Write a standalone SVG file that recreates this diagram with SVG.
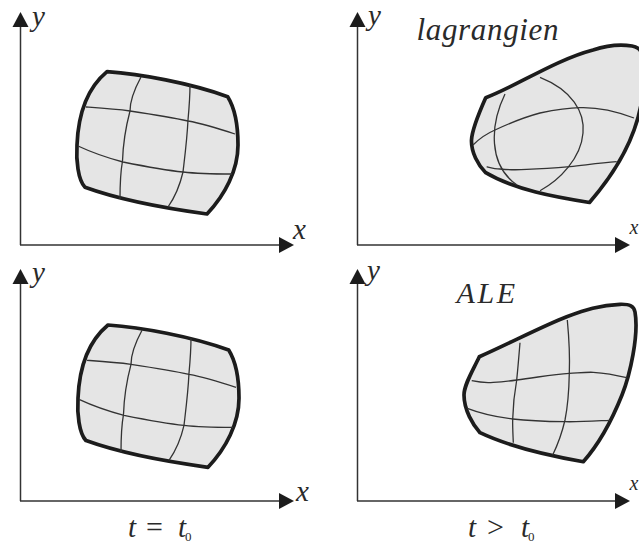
<svg xmlns="http://www.w3.org/2000/svg" xmlns:xlink="http://www.w3.org/1999/xlink" width="639" height="545" viewBox="0 0 639 545">
<style>
.o{fill:#e5e5e5;stroke:#1c1c1c;stroke-width:3.7;stroke-linejoin:round}
.g{fill:none;stroke:#333;stroke-width:1.3}
.a{fill:none;stroke:#333;stroke-width:1.5;marker-end:url(#arr)}
text{font-family:"Liberation Serif",serif;font-style:italic;font-size:29px;fill:#2a2a2a}
.sub{font-style:normal;font-size:13px}
.n{font-style:normal;font-size:30px}
.edge{font-size:20px}
</style>
<defs>
<marker id="arr" markerUnits="userSpaceOnUse" markerWidth="16" markerHeight="18" refX="1" refY="8.5" orient="auto">
<path d="M0,0.5 L15,8.5 L0,16.5Z" fill="#1c1c1c"/>
</marker>
<g id="shape">
<path class="o" d="M107,71.7 C140,74 190,83 227.7,96.7 C236,110 238,128 238,145 C238,170 225,195 207,214 C170,209 120,200 85,187.3 C78,180 76,160 77,145 C78,120 85,90 107,71.7Z"/>
<path class="g" d="M141,77 C134,90 130,100 130,111 C125,130 123,145 122.500,161 C120,175 120,187 120,199"/>
<path class="g" d="M190,85 C190,97 189,109 188,120 C187,140 185,155 183,172 C180,185 175,197 168,207"/>
<path class="g" d="M86,107 C100,108 115,109 130,111 C150,114 170,117 188,121 C205,124 220,129 235,134"/>
<path class="g" d="M78,146 C93,153 108,158 123,162 C143,166 163,170 183,172 C200,174 216,174 232,174"/>
</g>
</defs>
<g id="axes">
<path class="a" d="M20.500,245 V26"/>
<path class="a" d="M20,245 H280"/>
<path class="a" d="M357.500,245 V26"/>
<path class="a" d="M357,245 H616"/>
<path class="a" d="M20.500,501 V283"/>
<path class="a" d="M20,501 H280"/>
<path class="a" d="M357.500,501 V283"/>
<path class="a" d="M357,501 H616"/>
</g>
<g id="panel-initial-top">
<use xlink:href="#shape" href="#shape"/>
<text x="32" y="26">y</text>
<text x="293" y="239">x</text>
</g>
<g id="panel-lagrangien">
<path class="o" d="M485.700,97.700 C515,87 555,60 593,50 C605,46 620,44 632,46 C637,47 640,49 641,52 C650,100 635,150 589.500,202.500 C555,197 515,190 485.700,172.700 C478,165 471,152 471.500,140 C472,130 478,115 485.700,97.700Z"/>
<path class="g" d="M505,94 C490,125 488,165 517,185"/>
<path class="g" d="M540,77.300 C572,90 585,112 583,133 C581,158 560,180 540,190.700"/>
<path class="g" d="M473,145 C480,138 488,133 495,130 C510,123 525,117 540,113 C555,110 567,108 580,107.700 C600,107 618,112 634,118"/>
<path class="g" d="M486.700,166.700 C492,168 496,169 500,169 C510,170 518,170 526.700,169.300 C542,169 556,168 570,166.700 C586,165 600,163 616.700,161.700"/>
<text x="368" y="25">y</text>
<text class="edge" x="629.500" y="234">x</text>
<text x="416.500" y="40" textLength="142" lengthAdjust="spacing" style="font-size:31px">lagrangien</text>
</g>
<g id="panel-initial-bottom">
<use xlink:href="#shape" href="#shape" transform="translate(1,253.300)"/>
<text x="32" y="282">y</text>
<text x="296" y="501">x</text>
<text x="128" y="537">t</text>
<text class="n" x="146" y="537">=</text>
<text x="178" y="537">t</text>
<text class="sub" x="185" y="541">0</text>
</g>
<g id="panel-ale">
<path class="o" d="M479.300,356.700 C510,343 545,325 566.700,316.700 C585,310 600,305 620,304.300 C630,304 634,306 635,312 C639,335 630,375 622,395 C612,420 600,443 583.300,461.700 C545,455 510,447 480,432.700 C473,425 464,410 464,395 C464,385 472,372 479.300,356.700Z"/>
<path class="g" d="M520,342.700 C519,355 518,367 516.700,380 C514,395 513,407 512.700,419 C512.500,427 513,435 513.300,442.700"/>
<path class="g" d="M567.300,320 C569,338 570,355 569.300,373.300 C569,390 568,405 565,420 C562,433 558,444 552.700,455"/>
<path class="g" d="M471.700,380.700 C478,382 486,383 493.300,382.300 C502,382 510,381 516.700,380 C535,378 552,374 569.300,373.300 C577,373 585,372 593.300,372.300 C605,373 616,375 626.700,377.700"/>
<path class="g" d="M467.300,408.300 C482,414 497,417 512.700,419 C530,421 548,421.500 565,421.700 C580,422 595,421 610,420.300"/>
<text x="367" y="280">y</text>
<text class="edge" x="629.500" y="490">x</text>
<text x="456.500" y="303" textLength="58.500" lengthAdjust="spacing" style="font-size:30px">ALE</text>
<text x="468" y="537">t</text>
<text class="n" x="487" y="537">&gt;</text>
<text x="521" y="537">t</text>
<text class="sub" x="528" y="541">0</text>
</g>
</svg>
